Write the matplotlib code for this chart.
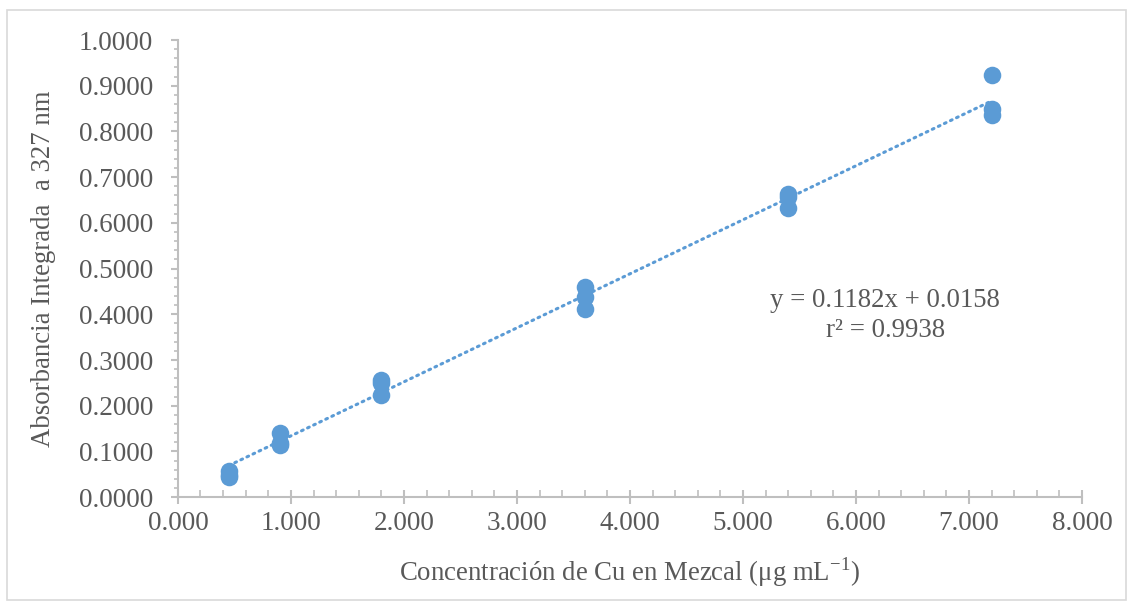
import matplotlib.pyplot as plt
import numpy as np
from matplotlib.patches import Rectangle
from matplotlib.ticker import MultipleLocator, FormatStrFormatter

plt.rcParams['font.family'] = ['Liberation Serif', 'DejaVu Serif']
plt.rcParams['mathtext.fontset'] = 'custom'
plt.rcParams['mathtext.rm'] = 'Liberation Serif'

# Calibration data: concentration (ug/mL) and integrated absorbance
conc = [0.45, 0.45, 0.45,
        0.9, 0.9, 0.9,
        1.8, 1.8, 1.8,
        3.6, 3.6, 3.6,
        5.4, 5.4, 5.4,
        7.2, 7.2, 7.2]
absorb = [0.058, 0.048, 0.045,
          0.141, 0.118, 0.115,
          0.256, 0.249, 0.223,
          0.460, 0.438, 0.411,
          0.664, 0.657, 0.632,
          0.923, 0.849, 0.837]

slope = 0.1182
intercept = 0.0158
r2 = 0.9938

blue = '#5B9BD5'
gray_txt = '#595959'
gray_ax = '#BFBFBF'

fig = plt.figure(figsize=(11.33, 6.07), dpi=100)
ax = fig.add_axes([0.157, 0.181, 0.798, 0.753])

# outer chart border
fig.patches.append(Rectangle((7 / 1133, 7 / 607), 1119 / 1133, 590 / 607,
                             transform=fig.transFigure, fill=False,
                             edgecolor='#D9D9D9', linewidth=1.2))

ax.scatter(conc, absorb, s=160, color=blue, zorder=3, linewidths=0)

xt = np.array([min(conc), max(conc)])
ax.plot(xt, slope * xt + intercept, color=blue, linestyle=(0, (0.6, 1.6)),
        linewidth=2.2, dash_capstyle='round', zorder=2)

ax.text(6.26, 0.431, f'y = {slope:.4f}x + {intercept:.4f}',
        ha='center', va='center', fontsize=19.3, color=gray_txt)
ax.text(6.26, 0.365, f'r² = {r2:.4f}',
        ha='center', va='center', fontsize=19.3, color=gray_txt)

ax.set_xlim(0, 8)
ax.set_ylim(0, 1.0)
ax.xaxis.set_major_locator(MultipleLocator(1))
ax.xaxis.set_minor_locator(MultipleLocator(0.2))
ax.yaxis.set_major_locator(MultipleLocator(0.1))
ax.yaxis.set_minor_locator(MultipleLocator(0.02))
ax.xaxis.set_major_formatter(FormatStrFormatter('%.3f'))
ax.yaxis.set_major_formatter(FormatStrFormatter('%.4f'))

for s in ['top', 'right']:
    ax.spines[s].set_visible(False)
for s in ['left', 'bottom']:
    ax.spines[s].set_color(gray_ax)
    ax.spines[s].set_linewidth(1.5)

ax.tick_params(axis='x', which='major', direction='inout', length=10,
               width=1.5, color=gray_ax, labelsize=19.5, labelcolor=gray_txt, pad=5)
ax.tick_params(axis='x', which='minor', direction='in', length=5,
               width=1.2, color=gray_ax)
ax.tick_params(axis='y', which='major', direction='out', length=5,
               width=1.5, color=gray_ax, labelsize=19.5, labelcolor=gray_txt, pad=13)
ax.tick_params(axis='y', which='minor', direction='out', length=3,
               width=1.2, color=gray_ax)

ax.set_xlabel('Concentración de Cu en Mezcal (μg mL$^{\\mathrm{-1}}$)',
              fontsize=19.3, color=gray_txt, labelpad=14)
ax.set_ylabel('Absorbancia Integrada  a 327 nm', fontsize=19.3, color=gray_txt,
              labelpad=16)

fig.savefig('out.png', dpi=100)
